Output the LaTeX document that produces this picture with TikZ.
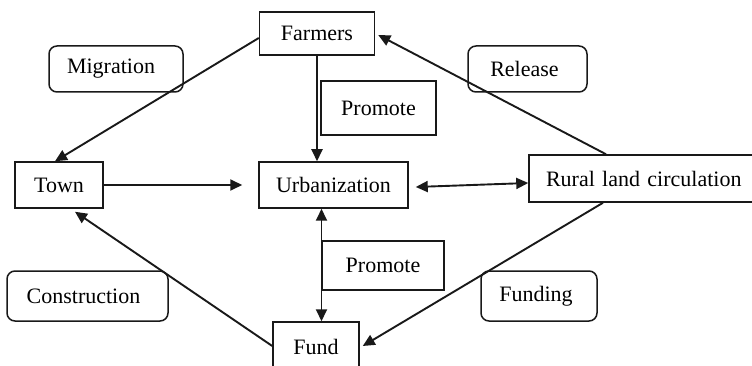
\documentclass[tikz,border=0pt]{standalone}
\usepackage{fontspec}
\setmainfont{Liberation Serif}
\usetikzlibrary{arrows.meta,calc}

\tikzset{
  box/.style={draw=black!90, line width=1.5pt, rectangle, inner sep=0pt,
              font=\fontsize{22}{26}\selectfont},
  tagbox/.style={box, rounded corners=8pt},
  link/.style={draw=black!90, line width=1.9pt,
               -{Triangle[length=12pt,width=11pt]}},
  both/.style={link, {Triangle[length=12pt,width=11pt]}-{Triangle[length=12pt,width=11pt]}}
}

\begin{document}
\begin{tikzpicture}[x=1pt,y=-1pt]
  \useasboundingbox (0,0) rectangle (752,366);
  \clip (0,0) rectangle (752,366);

  % main boxes
  \node[box, minimum width=115pt, minimum height=43pt] (farmers) at (317,33.5) {Farmers};
  \node[box, minimum width=88pt,  minimum height=46pt] (town)    at (59,185)    {Town};
  \node[box, minimum width=149pt, minimum height=46pt] (urban)   at (333.5,185) {Urbanization};
  \node[box, minimum width=250pt, minimum height=47pt, text width=250pt, align=left]
       (rural) at (654,178.5) {\hspace*{17pt}Rural land circulation};
  \node[box, minimum width=86pt,  minimum height=50pt] (fund)    at (316,347)   {Fund};

  % labels on the links
  \node[box, minimum width=115pt, minimum height=54pt] (promoteA) at (378.5,108)   {Promote};
  \node[box, minimum width=122pt, minimum height=49pt] (promoteB) at (383,265.5)   {Promote};
  \node[tagbox, minimum width=134pt, minimum height=46pt] (migration)    at (116,69)    {\hspace*{-10pt}Migration};
  \node[tagbox, minimum width=119pt, minimum height=46pt] (release)      at (527.5,69)  {\hspace*{-6pt}Release};
  \node[tagbox, minimum width=161pt, minimum height=50pt] (construction) at (87.5,296)  {\hspace*{-8pt}Construction};
  \node[tagbox, minimum width=116pt, minimum height=50pt] (funding)      at (539,296)   {\hspace*{-6pt}Funding};

  % connectors
  \draw[link] ([yshift=-4.5pt]farmers.west) -- ([xshift=-4pt]town.north);
  \draw[link] (farmers.south) -- (farmers.south |- urban.north);
  \coordinate (townhead) at ([xshift=-16pt]urban.west);
  \draw[link] (town.east) -- (townhead);
  \draw[both] ([xshift=7pt,yshift=-2pt]urban.east) -- ([yshift=-4.5pt]rural.west);
  \draw[link] ([xshift=-48pt]rural.north) -- ([xshift=3pt,yshift=-1.5pt]farmers.east);
  \draw[both] ([xshift=5.5pt]fund.north |- urban.south) -- ([xshift=5.5pt]fund.north);
  \draw[link] ([yshift=1pt]fund.west) -- ([xshift=16pt,yshift=-3pt]town.south);
  \draw[link] ([xshift=-51pt]rural.south) -- ([xshift=3pt,yshift=1pt]fund.east);
\end{tikzpicture}
\end{document}
